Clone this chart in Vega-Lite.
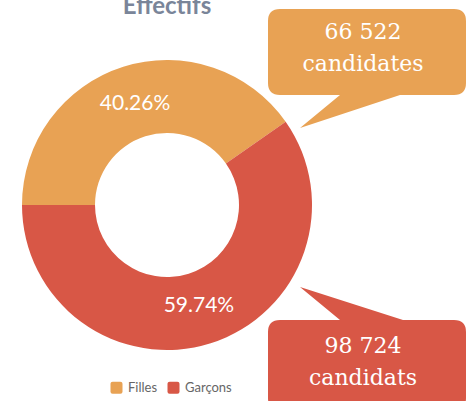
{
  "$schema": "https://vega.github.io/schema/vega-lite/v6.json",
  "width": 334,
  "height": 392,
  "autosize": {"type": "none"},
  "padding": {"left": 0, "top": 9, "right": 132, "bottom": 0},
  "background": "white",
  "title": {"text": "Effectifs", "font": "Lato", "fontSize": 24, "fontWeight": "bold", "color": "#7A8599", "anchor": "middle", "offset": -10},
  "config": {"view": {"stroke": null}},
  "data": {"values": [
    {"genre": "Filles", "effectif": 66522, "pourcentage": "40.26%", "nombre": "66 522", "libelle": "candidates"},
    {"genre": "Garçons", "effectif": 98724, "pourcentage": "59.74%", "nombre": "98 724", "libelle": "candidats"}
  ]},
  "layer": [
    {
      "mark": {"type": "arc", "outerRadius": 145, "innerRadius": 72},
      "encoding": {
        "theta": {"field": "effectif", "type": "quantitative", "stack": true, "scale": {"range": [-1.5708, 4.7124]}},
        "color": {
          "field": "genre", "type": "nominal",
          "scale": {"domain": ["Filles", "Garçons"], "range": ["#E8A254", "#D85746"]},
          "legend": {
            "title": null, "orient": "none", "legendX": 110, "legendY": 372, "direction": "horizontal",
            "symbolType": "M -1 -0.65 Q -1 -1 -0.65 -1 L 0.65 -1 Q 1 -1 1 -0.65 L 1 0.65 Q 1 1 0.65 1 L -0.65 1 Q -1 1 -1 0.65 Z",
            "symbolSize": 144, "symbolStrokeWidth": 0, "symbolOpacity": 1,
            "labelFont": "Lato", "labelFontSize": 13, "labelColor": "#666666", "columnPadding": 9, "labelOffset": 5
          }
        }
      }
    },
    {
      "mark": {"type": "text", "radius": 106, "fill": "white", "font": "Lato", "fontSize": 21, "align": "center", "baseline": "middle"},
      "encoding": {
        "theta": {"field": "effectif", "type": "quantitative", "stack": true},
        "detail": {"field": "genre", "type": "nominal"},
        "text": {"field": "pourcentage", "type": "nominal"}
      }
    },
    {
      "mark": {"type": "point", "filled": true, "opacity": 1, "strokeWidth": 0, "size": 40000},
      "encoding": {
        "x": {"field": "genre", "type": "nominal", "scale": {"type": "point", "padding": 0, "range": [363, 363]}, "axis": null},
        "y": {"field": "genre", "type": "nominal", "scale": {"type": "point", "padding": 0, "range": [30, 344]}, "axis": null},
        "shape": {
          "field": "nombre", "type": "nominal", "legend": null,
          "scale": {"domain": ["66 522", "98 724"], "range": [
            "M -0.83 -0.30 L 0.91 -0.30 Q 1.03 -0.30 1.03 -0.18 L 1.03 0.44 Q 1.03 0.56 0.91 0.56 L 0.37 0.56 L -0.63 0.89 L -0.23 0.56 L -0.83 0.56 Q -0.95 0.56 -0.95 0.44 L -0.95 -0.18 Q -0.95 -0.30 -0.83 -0.30 Z",
            "M -0.83 -0.33 L -0.23 -0.33 L -0.63 -0.66 L 0.40 -0.33 L 0.91 -0.33 Q 1.03 -0.33 1.03 -0.21 L 1.03 0.45 Q 1.03 0.57 0.91 0.57 L -0.83 0.57 Q -0.95 0.57 -0.95 0.45 L -0.95 -0.21 Q -0.95 -0.33 -0.83 -0.33 Z"
          ]}
        },
        "fill": {"field": "libelle", "type": "nominal", "legend": null, "scale": {"domain": ["candidates", "candidats"], "range": ["#E8A254", "#D85746"]}}
      }
    },
    {
      "mark": {"type": "text", "fill": "white", "font": "DejaVu Serif", "fontSize": 22, "align": "center", "baseline": "alphabetic"},
      "encoding": {
        "x": {"field": "genre", "type": "nominal"},
        "y": {"field": "genre", "type": "nominal"},
        "text": {"field": "nombre", "type": "nominal"}
      }
    },
    {
      "mark": {"type": "text", "fill": "white", "font": "DejaVu Serif", "fontSize": 22, "align": "center", "baseline": "alphabetic", "dy": 32},
      "encoding": {
        "x": {"field": "genre", "type": "nominal"},
        "y": {"field": "genre", "type": "nominal"},
        "text": {"field": "libelle", "type": "nominal"}
      }
    }
  ]
}
